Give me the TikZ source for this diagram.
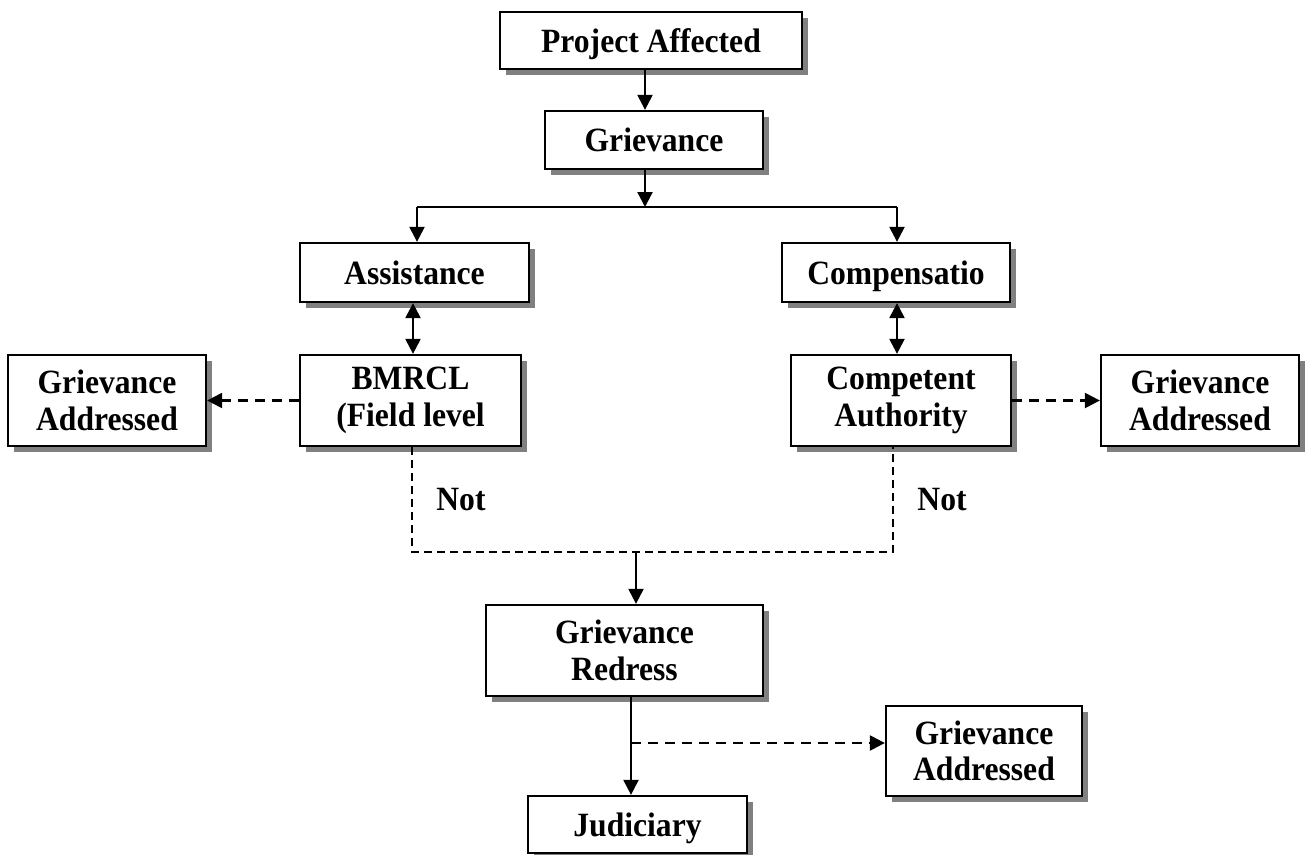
\documentclass[tikz,border=0pt]{standalone}
\usepackage{fontspec}
\setmainfont{Liberation Serif}[FakeStretch=0.93]
\usetikzlibrary{arrows.meta,shadows}
\begin{document}
\begin{tikzpicture}[x=1pt,y=-1pt,
  box/.style={draw, line width=2.3pt, fill=white, inner sep=0pt, align=center,
    font=\fontsize{34}{36.7}\selectfont\bfseries,
    drop shadow={shadow xshift=5.5pt, shadow yshift=-5.5pt, fill=black!50, opacity=1}},
  one/.style={text depth=0pt},
  arr/.style={line width=2.3pt, -{Triangle[length=15pt,width=15pt]}},
  darr/.style={line width=2.3pt, {Triangle[length=15pt,width=15pt]}-{Triangle[length=15pt,width=15pt]}},
  dasharr/.style={line width=2.3pt, dash pattern=on 10pt off 7pt, -{Triangle[length=15pt,width=15pt]}},
  thindash/.style={line width=1.6pt, dash pattern=on 8pt off 5pt},
  lbl/.style={font=\fontsize{34}{36.7}\selectfont\bfseries, inner sep=0pt}
]
\useasboundingbox (0,0) rectangle (1309,854);
\fill[white] (0,0) rectangle (1309,854);

\node[box,one,minimum width=302,minimum height=57] (pa) at (651,40.5) {Project Affected};
\node[box,one,minimum width=218,minimum height=58] (g) at (654,140) {Grievance};
\node[box,one,minimum width=229,minimum height=59] (as) at (414.5,272.5) {Assistance};
\node[box,one,minimum width=228,minimum height=59] (co) at (896,272.5) {Compensatio};
\node[box,minimum width=221,minimum height=91] (bm) at (410.5,400.5) {BMRCL\\(Field level};
\node[box,minimum width=198,minimum height=91] (ga1) at (107,400.5) {Grievance\\Addressed};
\node[box,minimum width=220,minimum height=91] (ca) at (901,400.5) {Competent\\Authority};
\node[box,minimum width=198,minimum height=91] (ga2) at (1200,400.5) {Grievance\\Addressed};
\node[box,minimum width=277,minimum height=91] (gr) at (624.5,650.5) {Grievance\\Redress};
\node[box,minimum width=196,minimum height=90] (ga3) at (984,751) {Grievance\\Addressed};
\node[box,one,minimum width=219,minimum height=57] (ju) at (637.5,824.5) {Judiciary};

\node[lbl] (n1) at (461,500) {Not};
\node[lbl] (n2) at (942,500) {Not};

\coordinate (xa) at (645,0);
\coordinate (split) at (645,207);
\coordinate (sl) at (417,207);
\coordinate (sr) at (897,207);
\coordinate (xl) at (413,0);
\coordinate (xr) at (897,0);
\coordinate (jl) at (412,552);
\coordinate (jr) at (893,552);
\coordinate (jm) at (636,552);
\coordinate (xg) at (631,0);
\coordinate (br) at (631,743);

\draw[arr] (xa |- pa.south) -- (xa |- g.north);
\draw[arr] (xa |- g.south) -- (split);
\draw[line width=2.3pt] (sl) -- (sr);
\draw[arr] (sl) -- (sl |- as.north);
\draw[arr] (sr) -- (sr |- co.north);
\draw[darr] (xl |- as.south) -- (xl |- bm.north);
\draw[darr] (xr |- co.south) -- (xr |- ca.north);
\draw[dasharr] (bm.west) -- (ga1.east);
\draw[dasharr] (ca.east) -- (ga2.west);
\draw[thindash] (jl |- bm.south) -- (jl) -- (jr) -- (jr |- ca.south);
\draw[arr] (jm) -- (jm |- gr.north);
\draw[arr] (xg |- gr.south) -- (xg |- ju.north);
\draw[dasharr] (br) -- (ga3.west |- br);
\end{tikzpicture}
\end{document}
